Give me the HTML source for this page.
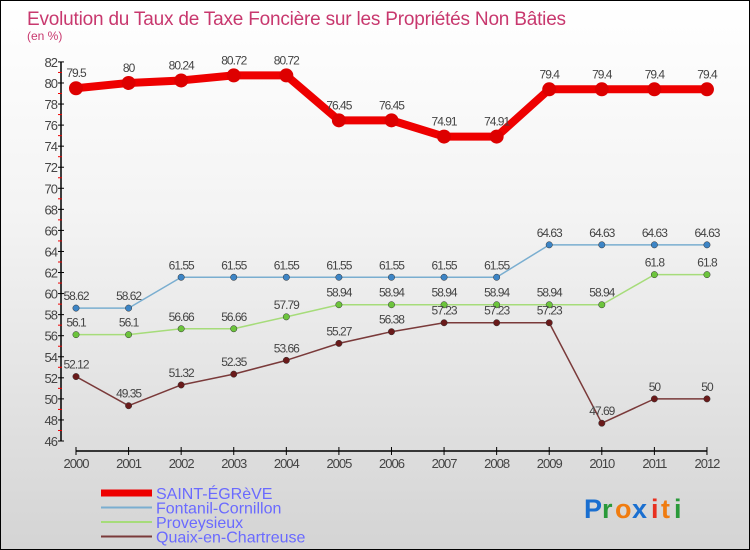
<!DOCTYPE html>
<html><head><meta charset="utf-8"><style>
body{margin:0}
#c{position:relative;width:748px;height:548px;border:1px solid #000;background:linear-gradient(#fff 0%,#f3f3f3 40%,#d4d4d4 100%);overflow:hidden;font-family:"Liberation Sans",sans-serif}
</style></head><body>
<div id="c">
<svg id="s" width="748" height="548" xmlns="http://www.w3.org/2000/svg">
<text x="26" y="24" font-size="19" letter-spacing="-0.2" fill="#c8386e">Evolution du Taux de Taxe Foncière sur les Propriétés Non Bâties</text>
<text x="26" y="39" font-size="12" fill="#c8386e">(en %)</text>
<g id="axes"></g><g id="series"></g><g id="legend"></g>
<g font-size="27" font-weight="bold">
<text x="583" y="517" fill="#1a6fd0">P</text><text x="601" y="517" fill="#2a9a3a">r</text><text x="614" y="517" fill="#f07c10">o</text><text x="631" y="517" fill="#1a6fd0">x</text><text x="650" y="517" fill="#e83020">i</text><text x="660" y="517" fill="#f07c10">t</text><text x="673" y="517" fill="#2a9a3a">i</text>
</g>
</svg>
</div>
<script>
const years=[2000,2001,2002,2003,2004,2005,2006,2007,2008,2009,2010,2011,2012];
const yTicks=[46,48,50,52,54,56,58,60,62,64,66,68,70,72,74,76,78,80,82];
const names=["SAINT-ÉGRèVE","Fontanil-Cornillon","Proveysieux","Quaix-en-Chartreuse"];
const sStEgreve=[79.5,80,80.24,80.72,80.72,76.45,76.45,74.91,74.91,79.4,79.4,79.4,79.4];
const sFontanil=[58.62,58.62,61.55,61.55,61.55,61.55,61.55,61.55,61.55,64.63,64.63,64.63,64.63];
const sProvey=[56.1,56.1,56.66,56.66,57.79,58.94,58.94,58.94,58.94,58.94,58.94,61.8,61.8];
const sQuaix=[52.12,49.35,51.32,52.35,53.66,55.27,56.38,57.23,57.23,57.23,47.69,50,50];
const NS="http://www.w3.org/2000/svg";
const X=i=>75+i*52.58, Y=v=>440-(v-46)*10.53;
function mk(t,a,p){const e=document.createElementNS(NS,t);for(const k in a)e.setAttribute(k,a[k]);p.appendChild(e);return e;}
const ax=document.getElementById('axes');
let e=mk('line',{x1:60,y1:Y(82),x2:60,y2:440,stroke:'#000','stroke-width':1.5},ax);


e=mk('line',{x1:75,y1:450,x2:X(12),y2:450,stroke:'#000','stroke-width':1.5},ax);


yTicks.forEach(v=>{mk('line',{x1:57,y1:Y(v),x2:63,y2:Y(v),stroke:'#000'},ax);
 if(v<82)mk('line',{x1:57,y1:Y(v+1),x2:61,y2:Y(v+1),stroke:'#e00'},ax);
 const t=mk('text',{x:56,y:Y(v)+5,'font-size':13,fill:'#444','text-anchor':'end','letter-spacing':'-1'},ax);t.textContent=v;
 
 });
years.forEach((y,i)=>{mk('line',{x1:X(i),y1:446,x2:X(i),y2:454,stroke:'#000'},ax);
 const t=mk('text',{x:X(i),y:467,'font-size':13,fill:'#444','text-anchor':'middle','letter-spacing':'-1'},ax);t.textContent=y;
 
 });
const sg=document.getElementById('series');
const series=[[sStEgreve,'#ee0000',8,7,'#dd0000'],[sFontanil,'#7aaed0',1.5,3.2,'#3d85c6'],[sProvey,'#a6dc7a',1.5,3.2,'#6cc43c'],[sQuaix,'#7a3a3a',1.5,3.2,'#6a1a1a']];
series.forEach((s,k)=>{const g=mk('g',{},sg);
 
 
 mk('polyline',{points:s[0].map((v,i)=>X(i)+','+Y(v)).join(' '),fill:'none',stroke:s[1],'stroke-width':s[2],'stroke-linejoin':'round'},g);
 s[0].forEach((v,i)=>{const c=mk('circle',{cx:X(i),cy:Y(v),r:s[3],fill:s[4],stroke:k?'#333':'none','stroke-width':0.5},g);
  
  
  const t=mk('text',{x:X(i),y:Y(v)-(k?8:11),'font-size':12,fill:'#444','text-anchor':'middle','letter-spacing':'-1'},g);t.textContent=v;
  
  });});
const lg=document.getElementById('legend');
series.forEach((s,k)=>{const y=492+k*14.5;const g=mk('g',{},lg);
 
 
 mk('line',{x1:100,y1:y,x2:151,y2:y,stroke:k?s[1]:'#ee0000','stroke-width':k?2:7},g);
 const t=mk('text',{x:155,y:y+6,'font-size':16,fill:'#6a6aff'},g);t.textContent=names[k];});
</script>
</body></html>
